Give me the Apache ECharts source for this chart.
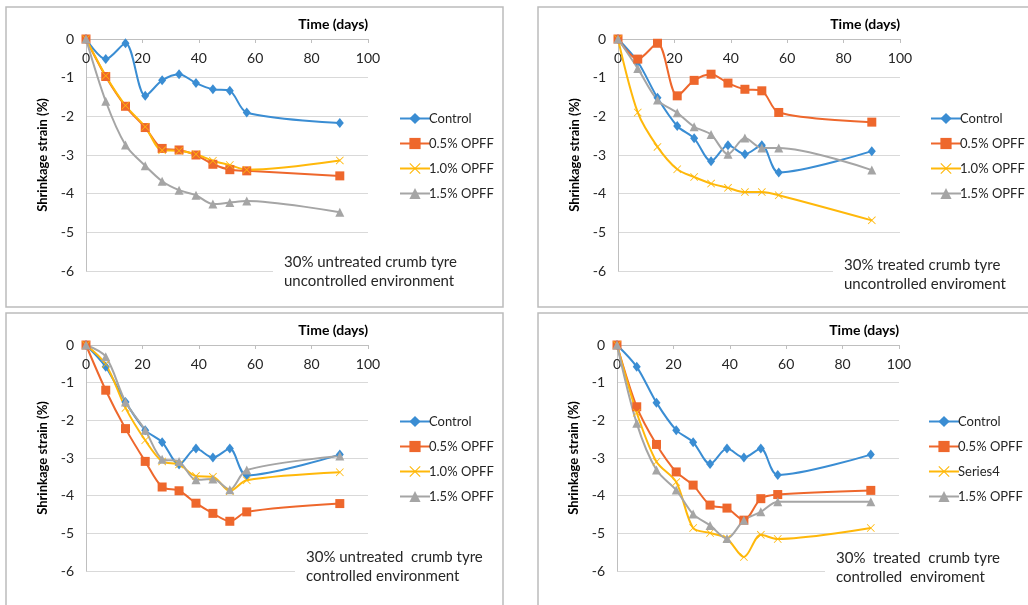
<!DOCTYPE html>
<html>
<head>
<meta charset="utf-8">
<title>Shrinkage strain of crumb tyre mixes</title>
<script src="https://cdn.jsdelivr.net/npm/echarts@6/dist/echarts.min.js"></script>
<style>
  html, body { margin: 0; padding: 0; background: #fff; }
  #chart { width: 1028px; height: 605px; }
</style>
</head>
<body>
<div id="chart"></div>
<script>
// Curing age in days (shared by all four panels)
const days = [0, 7, 14, 21, 27, 33, 39, 45, 51, 57, 90];

// Y axis ticks
const yTicks = [0, -1, -2, -3, -4, -5, -6];

// Panel 1: 30% untreated crumb tyre, uncontrolled environment
const p1Control = [0, -0.52, -0.11, -1.47, -1.07, -0.91, -1.14, -1.30, -1.34, -1.90, -2.17];
const p1Opff05  = [0, -0.97, -1.74, -2.29, -2.83, -2.87, -3.00, -3.24, -3.38, -3.41, -3.54];
const p1Opff10  = [0, -0.95, -1.72, -2.27, -2.88, -2.89, -2.98, -3.15, -3.26, -3.38, -3.14];
const p1Opff15  = [0, -1.61, -2.74, -3.28, -3.68, -3.91, -4.04, -4.27, -4.23, -4.19, -4.48];

// Panel 2: 30% treated crumb tyre, uncontrolled environment
const p2Control = [0, -0.59, -1.52, -2.25, -2.57, -3.16, -2.75, -2.98, -2.75, -3.45, -2.90];
const p2Opff05  = [0, -0.52, -0.11, -1.47, -1.07, -0.91, -1.14, -1.30, -1.34, -1.90, -2.15];
const p2Opff10  = [0, -1.90, -2.79, -3.37, -3.57, -3.74, -3.85, -3.96, -3.96, -4.04, -4.69];
const p2Opff15  = [0, -0.76, -1.58, -1.91, -2.27, -2.47, -2.98, -2.56, -2.82, -2.82, -3.39];

// Panel 3: 30% untreated crumb tyre, controlled environment
const p3Control = [0, -0.58, -1.51, -2.26, -2.58, -3.17, -2.75, -2.99, -2.75, -3.46, -2.91];
const p3Opff05  = [0, -1.20, -2.22, -3.09, -3.77, -3.87, -4.20, -4.47, -4.68, -4.43, -4.21];
const p3Opff10  = [0, -0.51, -1.67, -2.53, -3.09, -3.17, -3.48, -3.50, -3.88, -3.59, -3.38];
const p3Opff15  = [0, -0.31, -1.51, -2.26, -3.03, -3.09, -3.58, -3.56, -3.84, -3.32, -2.95];

// Panel 4: 30% treated crumb tyre, controlled environment
const p4Control = [0, -0.58, -1.53, -2.26, -2.58, -3.16, -2.75, -2.99, -2.75, -3.45, -2.91];
const p4Opff05  = [0, -1.64, -2.64, -3.37, -3.72, -4.25, -4.33, -4.65, -4.08, -3.97, -3.86];
const p4Series4 = [0, -1.80, -3.10, -3.64, -4.86, -4.99, -5.14, -5.63, -5.04, -5.15, -4.86];
const p4Opff15  = [0, -2.08, -3.32, -3.85, -4.49, -4.79, -5.14, -4.65, -4.43, -4.16, -4.16];

// Series names as listed in each legend
const names123 = ['Control', '0.5% OPFF', '1.0% OPFF', '1.5% OPFF'];
const names4   = ['Control', '0.5% OPFF', 'Series4', '1.5% OPFF'];

const panelData = [
  [p1Control, p1Opff05, p1Opff10, p1Opff15],
  [p2Control, p2Opff05, p2Opff10, p2Opff15],
  [p3Control, p3Opff05, p3Opff10, p3Opff15],
  [p4Control, p4Opff05, p4Series4, p4Opff15]
];
const panelNames = [names123, names123, names123, names4];
const panelNotes = [
  ['30% untreated crumb tyre', 'uncontrolled environment'],
  ['30% treated crumb tyre', 'uncontrolled enviroment'],
  ['30% untreated  crumb tyre', 'controlled environment'],
  ['30%  treated  crumb tyre', 'controlled  enviroment']
];

// Layout of each panel (frame, plot area, legend, note box)
const layout = [
  { frame: [6, 7, 497, 300],   grid: [86, 39, 282, 232],  legend: [394, 107], note: [273, 262, 284, 272] },
  { frame: [538, 7, 520, 300], grid: [618, 39, 282, 232], legend: [925, 107], note: [833, 264, 844, 275] },
  { frame: [6, 313, 497, 320], grid: [86, 345, 282, 226], legend: [394, 410], note: [295, 557, 306, 567] },
  { frame: [538, 313, 520, 320], grid: [617, 345, 282, 226], legend: [923, 410], note: [825, 558, 836, 568] }
];

const FONT = 'Lato, "Open Sans", sans-serif';
const colors = ['#3a8dd3', '#ee672c', '#ffb80a', '#a5a5a5'];
const crossPath = 'path://M0,0.7L0.7,0L5,4.3L9.3,0L10,0.7L5.7,5L10,9.3L9.3,10L5,5.7L0.7,10L0,9.3L4.3,5Z';
const symbols = ['diamond', 'rect', crossPath, 'triangle'];
const symbolSizes = [[8, 10], 9, 8, 9];

const grids = [], xAxes = [], yAxes = [], series = [], legends = [], graphics = [];

layout.forEach((L, i) => {
  const [gl, gt, gw, gh] = L.grid;
  grids.push({ left: gl, top: gt, width: gw, height: gh, containLabel: false });

  xAxes.push({
    gridIndex: i, type: 'value', position: 'top',
    min: 0, max: 100, interval: 20,
    axisLine: { show: true, lineStyle: { color: '#bfbfbf', width: 1 } },
    axisTick: { show: true, inside: true, length: 4, lineStyle: { color: '#bfbfbf' } },
    axisLabel: { inside: true, margin: 12, color: '#262626', fontSize: 14, fontFamily: FONT },
    splitLine: { show: false }
  });

  yAxes.push({
    gridIndex: i, type: 'value', min: -6, max: 0, interval: 1,
    axisLine: { show: true, onZero: false, lineStyle: { color: '#bfbfbf', width: 1 } },
    axisTick: { show: false },
    axisLabel: { margin: 12, color: '#262626', fontSize: 14, fontFamily: FONT,
      customValues: yTicks },
    splitLine: { show: true, lineStyle: { color: '#d9d9d9', width: 1 } },
    name: 'Shrinkage strain (%)', nameLocation: 'middle', nameRotate: 90, nameGap: 37,
    nameTextStyle: { fontWeight: 'bold', fontSize: 13, color: '#000', fontFamily: FONT }
  });

  const names = panelNames[i];
  panelData[i].forEach((vals, k) => {
    series.push({
      name: names[k], type: 'line', xAxisIndex: i, yAxisIndex: i,
      data: days.map((d, j) => [d, vals[j]]),
      smooth: 0.3,
      symbol: symbols[k], symbolSize: symbolSizes[k], showSymbol: true,
      lineStyle: { color: colors[k], width: 2 },
      itemStyle: { color: colors[k] },
      z: 3,
      animation: false
    });
  });

  legends.push({
    orient: 'vertical', left: L.legend[0], top: L.legend[1],
    itemWidth: 30, itemHeight: 14, itemGap: 12,
    data: names,
    selectedMode: false,
    textStyle: { fontSize: 13, color: '#262626', fontFamily: FONT, padding: [0, 0, 0, -6] }
  });

  // Panel frame
  const [fx, fy, fw, fh] = L.frame;
  graphics.push({
    type: 'rect', shape: { x: fx, y: fy, width: fw, height: fh },
    style: { fill: 'none', stroke: '#bcbcbc', lineWidth: 1.5 }, z: 1, silent: true
  });

  // Title of the time axis
  graphics.push({
    type: 'text', x: gl + gw, y: gt - 15,
    style: { text: 'Time (days)', align: 'right', verticalAlign: 'middle',
      font: 'bold 14px ' + FONT, fill: '#000' }, z: 5, silent: true
  });

  // Note box describing the mix, drawn over the bottom gridline
  const [bx, by, tx, ty] = L.note;
  graphics.push({
    type: 'rect', shape: { x: bx, y: by, width: 200, height: 42 },
    style: { fill: '#fff' }, z: 4, silent: true
  });
  graphics.push({
    type: 'text', x: tx, y: ty,
    style: { text: panelNotes[i].join('\n'), align: 'left', verticalAlign: 'middle',
      font: '15px ' + FONT, fill: '#262626', lineHeight: 19 }, z: 5, silent: true
  });
});

const chart = echarts.init(document.getElementById('chart'), null, { renderer: 'canvas' });
chart.setOption({
  animation: false,
  backgroundColor: '#fff',
  grid: grids, xAxis: xAxes, yAxis: yAxes, series: series, legend: legends,
  graphic: graphics
});
</script>
</body>
</html>
